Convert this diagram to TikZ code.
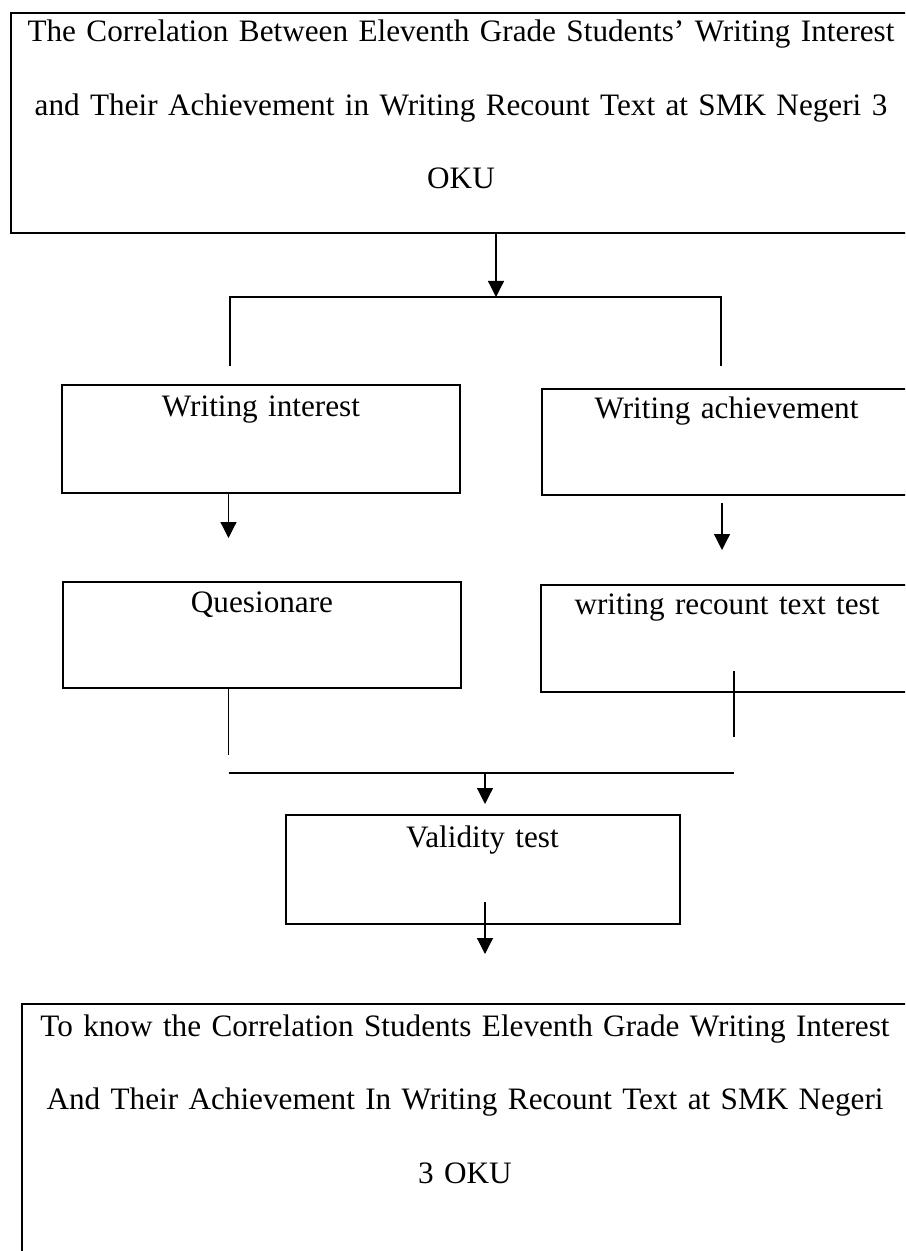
\documentclass[tikz,border=0pt]{standalone}
\usepackage{fontspec}
\setmainfont{Liberation Serif}
\usepackage{tikz}
\usetikzlibrary{arrows.meta}
\usetikzlibrary{positioning}
\newcommand\boxfont{\fontsize{15.6pt}{36.75pt}\selectfont}
\newcommand\mybox[4][]{%
  \node[mybox,#1] (#2) at (#3) {#4};
}

\begin{document}
\begin{tikzpicture}[x=0.5pt, y=-0.5pt,
>={Triangle[width=8pt,length=8pt]},
mybox/.style={
  draw,
  line width=1pt,
  anchor=north west,
  inner sep=0pt,
  align=center,
  font=\boxfont,
  text height=15pt},
conn/.style={line width=0.6pt},
arr/.style={conn,->}
]
\clip (0,0) rectangle (905,1251);
\mybox[text width=450pt, text height=14.5pt, text depth=95.5pt]{title}{10,12}{The Correlation Between Eleventh Grade Students’ Writing Interest\\and Their Achievement in Writing Recount Text at SMK Negeri 3\\OKU}
\mybox[text width=199pt, text height=15.5pt, text depth=38.5pt]{interest}{61,384}{Writing interest}
\mybox[text width=184.5pt, text height=14.5pt, text depth=38.5pt]{achieve}{541,388}{Writing achievement}
\mybox[text width=199pt, text depth=38pt]{quesion}{62,581}{Quesionare}
\mybox[text width=186pt, text height=14.5pt, text depth=39pt]{recount}{540,584}{writing recount text test}
\mybox[text width=197pt, text height=16pt, text depth=38.5pt]{validity}{284.5,814}{Validity test}
\mybox[text width=443pt, text height=16pt, text depth=118pt]{goal}{21,1003}{To know the Correlation Students Eleventh Grade Writing Interest\\And Their Achievement In Writing Recount Text at SMK Negeri\\3 OKU}

\coordinate (split) at (496,297);
\coordinate (splitL) at (230,297);
\coordinate (splitR) at (721,297);
\coordinate (dropL) at (230,366);
\coordinate (dropR) at (721,366);
\draw[arr] (title.south -| split) -- (split);
\draw[conn] (dropL) -- (splitL) -- (splitR) -- (dropR);

\coordinate (qin) at (228.5,538);
\coordinate (rout) at (722,503);
\coordinate (rin) at (722,550);
\draw[arr] (interest.south -| qin) -- (qin);
\draw[arr] (rout) -- (rin);

\coordinate (endL) at (228.5,755);
\coordinate (riseR) at (734,671);
\coordinate (endR) at (734,737);
\coordinate (joinL) at (228.5,773);
\coordinate (joinR) at (734,773);
\draw[conn] (quesion.south -| endL) -- (endL);
\draw[conn] (riseR) -- (endR);
\draw[conn, line width=0.8pt] (joinL) -- (joinR);

\coordinate (vin) at (485,804);
\coordinate (vstart) at (485,902);
\coordinate (gin) at (485,954);
\draw[arr] (vin |- joinL) -- (vin);
\draw[arr] (vstart) -- (gin);
\end{tikzpicture}
\end{document}
